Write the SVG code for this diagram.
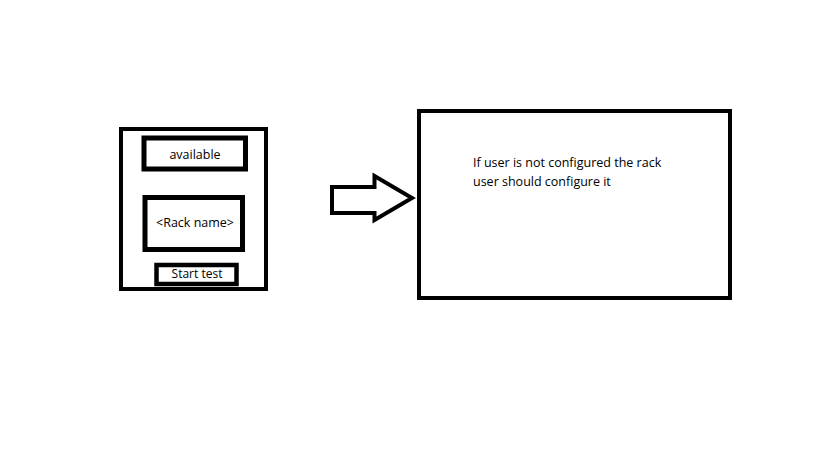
<svg xmlns="http://www.w3.org/2000/svg" width="819" height="460" viewBox="0 0 819 460">
  <style>
    .box { fill: #fff; stroke: #000; stroke-linejoin: miter; }
    .lbl { font-family: "Open Sans", "Noto Sans", "Liberation Sans", sans-serif; fill: #000; }
  </style>
  <rect x="0" y="0" width="819" height="460" fill="#fff"/>

  <!-- rack card with its three parts -->
  <g id="rack-card">
    <rect class="box" x="121" y="129" width="145" height="160" stroke-width="4"/>
  </g>
  <g id="status">
    <rect class="box" x="144" y="138" width="101.5" height="31" stroke-width="5"/>
    <text class="lbl" x="195" y="159" font-size="12.5" text-anchor="middle">available</text>
  </g>
  <g id="rack-name">
    <rect class="box" x="145" y="197.5" width="97.5" height="52" stroke-width="5"/>
    <text class="lbl" x="195" y="227" font-size="12.5" text-anchor="middle">&lt;Rack name&gt;</text>
  </g>
  <g id="start-test">
    <rect class="box" x="156.5" y="265" width="80" height="19" stroke-width="4.5"/>
    <text class="lbl" x="197" y="278" font-size="12" text-anchor="middle">Start test</text>
  </g>

  <!-- block arrow between the card and the note -->
  <g id="connectors">
    <polygon class="box" stroke-width="4" points="332,187 374.5,187 374.5,176 412,198 374.5,220 374.5,213 332,213"/>
  </g>

  <!-- configuration note -->
  <g id="note">
    <rect class="box" x="419" y="111" width="311" height="187" stroke-width="4"/>
    <text class="lbl" font-size="12.5">
      <tspan x="473" y="167">If user is not configured the rack</tspan>
      <tspan x="473" y="186">user should configure it</tspan>
    </text>
  </g>
</svg>
